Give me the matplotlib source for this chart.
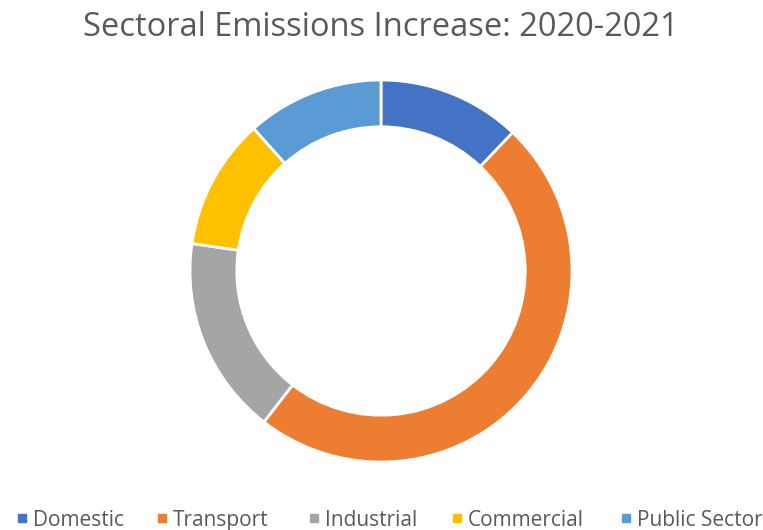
import matplotlib
matplotlib.use("Agg")
import matplotlib.pyplot as plt
from matplotlib.lines import Line2D

categories = ["Domestic", "Transport", "Industrial", "Commercial", "Public Sector"]
values = [12.1, 48.4, 16.8, 11.1, 11.6]
colors = ["#4472C4", "#ED7D31", "#A5A5A5", "#FFC000", "#5B9BD5"]
title = "Sectoral Emissions Increase: 2020-2021"

W, H = 763, 530
fig = plt.figure(figsize=(W / 100, H / 100), dpi=100)
fig.patch.set_facecolor("white")

cx, cy, r = 381, 271, 191
ax = fig.add_axes([(cx - r) / W, (H - cy - r) / H, 2 * r / W, 2 * r / H])
ax.pie(values, colors=colors, startangle=90, counterclock=False, radius=1,
       wedgeprops=dict(width=0.245, edgecolor="white", linewidth=2))
ax.set_xlim(-1.0, 1.0)
ax.set_ylim(-1.0, 1.0)
ax.set_aspect("equal")
ax.axis("off")

font = ["Open Sans", "DejaVu Sans"]
fig.text(381 / W, 1 - 27 / H, title, ha="center", va="center",
         fontsize=23.5, color="#595959", family=font)

# legend, laid out by hand to match the reference spacing
text_x = [33, 173, 325, 468, 637]
ly = 1 - 518 / H
for name, c, tx in zip(categories, colors, text_x):
    fig.add_artist(Line2D([(tx - 11) / W], [ly], transform=fig.transFigure,
                          marker="s", markersize=5.5, linestyle="none",
                          markerfacecolor=c, markeredgecolor=c))
    fig.text(tx / W, ly, name, ha="left", va="center_baseline",
             fontsize=15, color="#595959", family=font)

fig.savefig("out.png", dpi=100, facecolor="white")
